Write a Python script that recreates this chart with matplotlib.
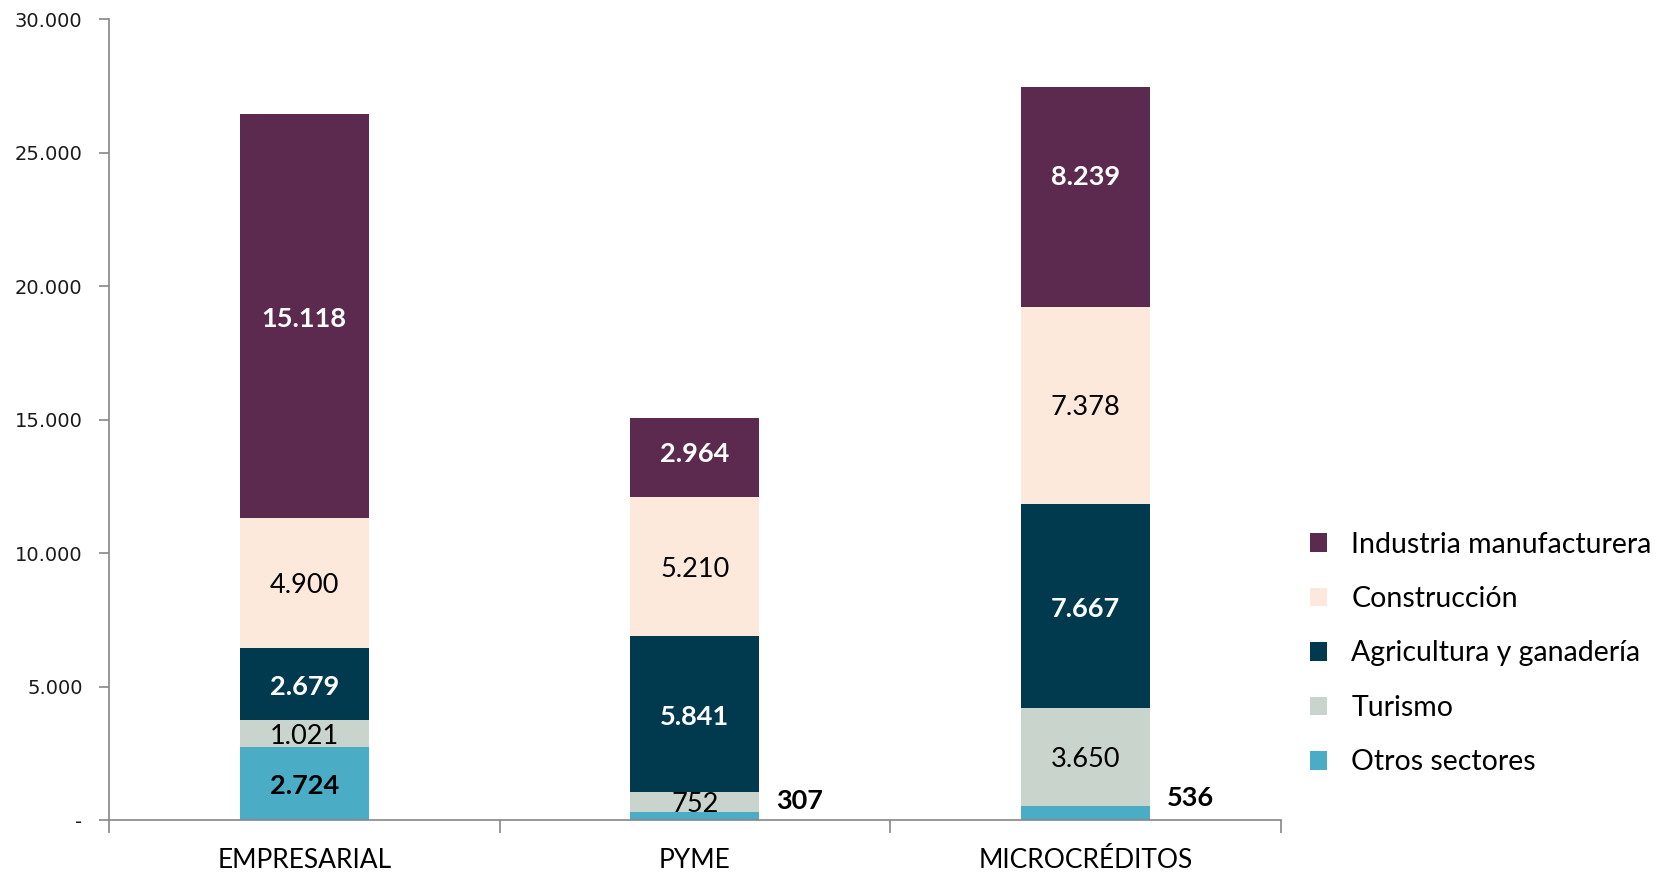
import matplotlib
matplotlib.use("Agg")
import matplotlib.pyplot as plt
from matplotlib.patches import Patch
from matplotlib.ticker import FuncFormatter, FixedLocator
import numpy as np

categories = ["EMPRESARIAL", "PYME", "MICROCRÉDITOS"]
series_names = ["Otros sectores", "Turismo", "Agricultura y ganadería", "Construcción", "Industria manufacturera"]
otros = [2724, 307, 536]
turismo = [1021, 752, 3650]
agricultura = [2679, 5841, 7667]
construccion = [4900, 5210, 7378]
industria = [15118, 2964, 8239]
yticks = [0, 5000, 10000, 15000, 20000, 25000, 30000]

series = [otros, turismo, agricultura, construccion, industria]
colors = ["#4BACC6", "#C9D4CC", "#013A4F", "#FDE9DB", "#5B2A4E"]
label_styles = [("black", "bold"), ("black", "normal"), ("white", "bold"), ("black", "normal"), ("white", "bold")]
# label nudges in points (series index, category index) -> dy
nudges = {(4, 2): 16, (4, 1): 4}

FONT = "Lato"
fig = plt.figure(figsize=(16.74, 8.76), dpi=100)
ax = fig.add_axes([0.0651, 0.0639, 0.6999, 0.9144])

x = np.arange(len(categories))
width = 0.33
bottom = np.zeros(len(categories))
for si, (vals, col, (tc, tw)) in enumerate(zip(series, colors, label_styles)):
    vals = np.array(vals, dtype=float)
    ax.bar(x, vals, width, bottom=bottom, color=col, edgecolor="none", zorder=2)
    for i, v in enumerate(vals):
        label = f"{int(v):,}".replace(",", ".")
        if v < 600:
            ax.annotate(label, xy=(x[i] + width / 2, bottom[i] + v / 2),
                        xytext=(12, 11), textcoords="offset points",
                        ha="left", va="center", fontsize=19.5, fontweight="bold",
                        color="black", family=FONT)
        else:
            ax.annotate(label, xy=(x[i], bottom[i] + v / 2),
                        xytext=(0, nudges.get((si, i), 0) - 2), textcoords="offset points",
                        ha="center", va="center",
                        fontsize=19.5, fontweight=tw, color=tc, family=FONT)
    bottom += vals

ax.set_xlim(-0.5, 2.5)
ax.set_ylim(0, 30000)
ax.set_yticks(yticks)
ax.yaxis.set_major_formatter(FuncFormatter(lambda v, p: "-" if v == 0 else f"{int(v):,}".replace(",", ".")))
for lab in ax.get_yticklabels():
    lab.set_family("DejaVu Sans")
    lab.set_fontsize(14)
ax.tick_params(axis="y", length=7, width=1.2, color="#868686", pad=12, labelcolor="#1a1a1a")

ax.set_xticks(x)
ax.set_xticklabels(categories, family=FONT, fontsize=19)
ax.tick_params(axis="x", which="major", length=0, pad=20)
ax.xaxis.set_minor_locator(FixedLocator([-0.5, 0.5, 1.5, 2.5]))
ax.tick_params(axis="x", which="minor", length=9, width=1.2, color="#868686")

for s in ["top", "right"]:
    ax.spines[s].set_visible(False)
for s in ["left", "bottom"]:
    ax.spines[s].set_color("#868686")
    ax.spines[s].set_linewidth(1.2)

handles = [Patch(facecolor=c, edgecolor="none", label=n) for n, c in zip(series_names, colors)][::-1]
leg = fig.legend(handles=handles, loc="center left", bbox_to_anchor=(0.767, 0.254),
                 frameon=False, prop={"family": FONT, "size": 20.5},
                 handlelength=0.62, handleheight=0.62, handletextpad=0.85, labelspacing=1.0)

fig.savefig("out.png", dpi=100, facecolor="white")
